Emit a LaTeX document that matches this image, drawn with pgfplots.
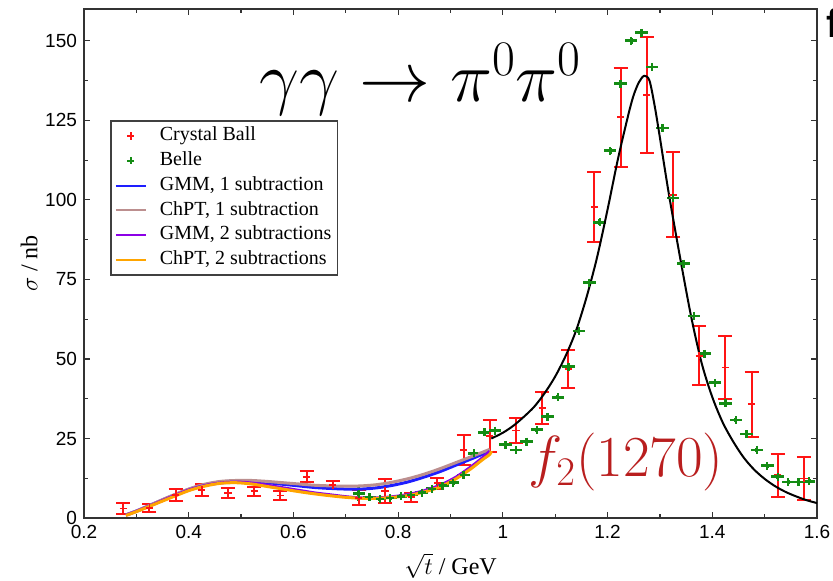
\RequirePackage{fix-cm}
\documentclass[border=0pt]{standalone}
\usepackage[no-math]{fontspec}
\setmainfont{Liberation Serif}
\setsansfont{Liberation Sans}
\usepackage{pgfplots}
\pgfplotsset{compat=1.18}

\definecolor{cbred}{RGB}{255,20,20}
\definecolor{bellegreen}{RGB}{20,140,20}
\definecolor{gmmblue}{RGB}{30,30,255}
\definecolor{chptbrown}{RGB}{188,143,143}
\definecolor{gmmpurple}{RGB}{140,0,230}
\definecolor{chptorange}{RGB}{255,165,0}
\definecolor{fred}{RGB}{185,30,30}

\pgfplotsset{
  linelegend/.style={legend image code/.code={
      \path[draw=none, fill=none] (0pt,-3pt) rectangle (21pt,3pt);
      \draw[##1] (0pt,0pt) -- (15pt,0pt);}},
  marklegend/.style={legend image code/.code={
      \path[draw=none, fill=none] (0pt,-3pt) rectangle (21pt,3pt);
      \draw[##1] plot coordinates {(7.5pt,0pt)};}},
}

\begin{document}
\begin{tikzpicture}
\begin{axis}[
  scale only axis, width=366.5pt, height=254.5pt,
  xmin=0.2, xmax=1.6, ymin=0, ymax=160,
  xtick={0.2,0.4,0.6,0.8,1,1.2,1.4,1.6},
  ytick={0,25,50,75,100,125,150},
  minor x tick num=1, minor y tick num=1,
  tick align=inside, major tick length=3pt, minor tick length=2pt,
  axis line style={line width=0.8pt, black!80},
  every tick/.style={black!80, line width=0.6pt},
  /pgf/number format/assume math mode=true,
  ticklabel style={font=\fontsize{9.5}{11}\selectfont\sffamily},
  xlabel={$\sqrt{t}$ / GeV},
  ylabel={$\sigma$ / nb},
  label style={font=\fontsize{12}{14}\selectfont},
  xlabel style={yshift=-0.6pt},
  ylabel style={yshift=-3pt},
  legend cell align=left,
  legend style={at={(rel axis cs:0.0355,0.782)}, anchor=north west,
    font=\fontsize{10}{12}\selectfont, draw=black!75, line width=0.8pt,
    row sep=1.2pt, inner sep=2pt,
    nodes={inner sep=1pt, text height=7pt, text depth=2.2pt}},
]
\addlegendimage{marklegend, only marks, mark=+, mark size=1.8pt, cbred, line width=0.9pt}
\addlegendentry{Crystal Ball}
\addlegendimage{marklegend, only marks, mark=+, mark size=1.8pt, bellegreen, line width=1.1pt}
\addlegendentry{Belle}
\addlegendimage{linelegend, gmmblue, line width=1pt}
\addlegendentry{GMM, 1 subtraction}
\addlegendimage{linelegend, chptbrown, line width=1pt}
\addlegendentry{ChPT, 1 subtraction}
\addlegendimage{linelegend, gmmpurple, line width=1pt}
\addlegendentry{GMM, 2 subtractions}
\addlegendimage{linelegend, chptorange, line width=1pt}
\addlegendentry{ChPT, 2 subtractions}
% Crystal Ball
\addplot[forget plot, only marks, mark=+, mark size=1.8pt, cbred, line width=0.9pt,
  error bars/.cd, y dir=both, y explicit,
  error mark options={rotate=90, cbred, mark size=3.5pt, line width=1pt},
  error bar style={line width=1pt, color=cbred}]
coordinates {
(0.275,3.0) +- (0,1.6)
(0.325,3.2) +- (0,1.2)
(0.375,7.2) +- (0,1.8)
(0.425,8.8) +- (0,1.9)
(0.475,7.8) +- (0,1.6)
(0.525,8.4) +- (0,1.5)
(0.575,7.1) +- (0,1.4)
(0.625,13.0) +- (0,1.7)
(0.675,10.3) +- (0,1.3)
(0.725,6.4) +- (0,2.3)
(0.775,8.5) +- (0,3.8)
(0.825,6.5) +- (0,1.4)
(0.875,10.9) +- (0,1.7)
(0.925,21.5) +- (0,4.7)
(0.975,25.8) +- (0,5.0)
(1.025,27.5) +- (0,3.9)
(1.075,34.7) +- (0,5.0)
(1.125,46.9) +- (0,6.0)
(1.175,97.8) +- (0,10.9)
(1.225,126.0) +- (0,15.6)
(1.275,133.0) +- (0,18.2)
(1.325,101.6) +- (0,13.4)
(1.375,51.0) +- (0,9.3)
(1.425,47.3) +- (0,9.8)
(1.475,35.8) +- (0,10.2)
(1.525,13.4) +- (0,6.7)
(1.575,12.4) +- (0,6.7)
};
% Belle
\addplot[forget plot, only marks, mark=+, mark size=2pt, bellegreen, line width=1.2pt,
  error bars/.cd, x dir=both, x explicit, y dir=both, y explicit,
  error mark=none,
  error bar style={line width=1.4pt, color=bellegreen}]
coordinates {
(0.725,7.7) +- (0.012,2.2)
(0.745,6.6) +- (0.012,0.6)
(0.765,6.0) +- (0.012,0.6)
(0.785,6.3) +- (0.012,0.6)
(0.805,6.8) +- (0.012,0.6)
(0.825,7.3) +- (0.012,0.6)
(0.845,8.0) +- (0.012,0.6)
(0.865,9.2) +- (0.012,0.6)
(0.885,10.2) +- (0.012,0.6)
(0.905,11.1) +- (0.012,0.6)
(0.925,13.5) +- (0.012,0.6)
(0.945,20.4) +- (0.012,0.7)
(0.965,27.0) +- (0.012,0.7)
(0.985,27.5) +- (0.012,0.7)
(1.005,23.0) +- (0.012,0.7)
(1.025,21.4) +- (0.012,0.7)
(1.045,24.0) +- (0.012,0.7)
(1.065,27.7) +- (0.012,0.7)
(1.085,31.8) +- (0.012,0.7)
(1.105,38.0) +- (0.012,0.7)
(1.125,47.5) +- (0.012,0.8)
(1.145,58.8) +- (0.012,0.8)
(1.165,74.0) +- (0.012,0.8)
(1.185,93.0) +- (0.012,0.9)
(1.205,115.4) +- (0.012,0.9)
(1.225,136.5) +- (0.012,1.0)
(1.245,150.0) +- (0.012,1.0)
(1.265,152.5) +- (0.012,1.0)
(1.285,141.8) +- (0.012,1.0)
(1.305,122.6) +- (0.012,0.9)
(1.325,100.6) +- (0.012,0.9)
(1.345,80.0) +- (0.012,0.8)
(1.365,63.5) +- (0.012,0.8)
(1.385,51.6) +- (0.012,0.8)
(1.405,42.5) +- (0.012,0.7)
(1.425,36.0) +- (0.012,0.7)
(1.445,30.8) +- (0.012,0.7)
(1.465,26.4) +- (0.012,0.7)
(1.485,21.4) +- (0.012,0.7)
(1.505,16.4) +- (0.012,0.6)
(1.525,13.0) +- (0.012,0.6)
(1.545,11.3) +- (0.012,0.6)
(1.565,11.3) +- (0.012,0.6)
(1.585,11.6) +- (0.012,0.6)
};
% GMM, 1 subtraction
\addplot[forget plot, gmmblue, line width=1.5pt, smooth] coordinates {
(0.28,1.0) (0.30,2.2) (0.33,4.3) (0.36,6.4) (0.40,9.0) (0.43,10.4) (0.46,11.3)
(0.49,11.6) (0.52,11.5) (0.55,11.1) (0.58,10.6) (0.61,10.1) (0.64,9.6) (0.67,9.3)
(0.70,9.1) (0.73,9.1) (0.76,9.5) (0.79,10.3) (0.82,11.4) (0.85,12.9) (0.88,14.6)
(0.91,16.6) (0.94,18.6) (0.96,20.0) (0.975,21.2)
};
% ChPT, 1 subtraction
\addplot[forget plot, chptbrown, line width=1.5pt, smooth] coordinates {
(0.28,1.0) (0.30,2.2) (0.33,4.3) (0.36,6.5) (0.40,9.1) (0.43,10.6) (0.46,11.5)
(0.49,11.8) (0.52,11.8) (0.55,11.5) (0.58,11.1) (0.61,10.7) (0.64,10.3) (0.67,10.1)
(0.70,10.0) (0.73,10.1) (0.76,10.5) (0.79,11.3) (0.82,12.4) (0.85,13.8) (0.88,15.5)
(0.91,17.4) (0.94,19.3) (0.96,20.6) (0.975,21.6)
};
% GMM, 2 subtractions
\addplot[forget plot, gmmpurple, line width=1.5pt, smooth] coordinates {
(0.28,0.9) (0.30,2.1) (0.33,4.1) (0.36,6.2) (0.40,8.8) (0.43,10.2) (0.46,11.0)
(0.49,11.3) (0.52,11.0) (0.55,10.3) (0.58,9.5) (0.61,8.7) (0.64,7.9) (0.67,7.3)
(0.70,6.7) (0.73,6.3) (0.76,6.3) (0.79,6.7) (0.82,7.4) (0.85,8.6) (0.88,10.3)
(0.91,12.8) (0.94,16.2) (0.96,18.8) (0.975,21.0)
};
% ChPT, 2 subtractions
\addplot[forget plot, chptorange, line width=1.5pt, smooth] coordinates {
(0.28,0.8) (0.30,2.0) (0.33,4.0) (0.36,6.0) (0.40,8.6) (0.43,10.0) (0.46,10.9)
(0.49,11.1) (0.52,10.7) (0.55,9.9) (0.58,9.1) (0.61,8.3) (0.64,7.6) (0.67,7.0)
(0.70,6.5) (0.73,6.2) (0.76,6.2) (0.79,6.5) (0.82,7.1) (0.85,8.2) (0.88,9.8)
(0.91,12.3) (0.94,15.6) (0.96,18.2) (0.975,20.0) (0.978,21.0)
};
% f2 resonance curve
\addplot[forget plot, black, line width=1.0pt, smooth] coordinates {
(0.978,25) (1.0,26.8) (1.02,29) (1.04,31.8) (1.06,35) (1.08,39.3) (1.10,44.5)
(1.12,51) (1.14,59) (1.16,69.5) (1.18,82) (1.20,97) (1.22,113) (1.24,127)
(1.25,133) (1.26,137) (1.27,139) (1.28,137.5) (1.29,129.5) (1.30,119.5) (1.31,109)
(1.32,99) (1.34,80.5) (1.36,63) (1.38,48.5) (1.40,38) (1.42,30) (1.44,24)
(1.46,19) (1.48,15.2) (1.50,12.3) (1.52,10) (1.54,8.2) (1.56,6.8) (1.58,5.6) (1.60,4.7)
};
\node[anchor=base west, inner sep=0, font=\fontsize{35.5}{40}\selectfont]
  at (axis cs:0.535,131) {$\gamma\gamma\to\pi^0\pi^0$};
\node[anchor=base west, inner sep=0, text=fred, font=\fontsize{29}{33}\selectfont]
  at (axis cs:1.048,12.9) {$f_2(1270)$};
\end{axis}
\node[anchor=north west, inner sep=0, font=\fontsize{20}{24}\selectfont\bfseries\sffamily]
  at (371pt,255pt) {f};
\pgfresetboundingbox
\path[use as bounding box] (-42pt,-31pt) rectangle (374.5pt,259pt);
\end{tikzpicture}
\end{document}
